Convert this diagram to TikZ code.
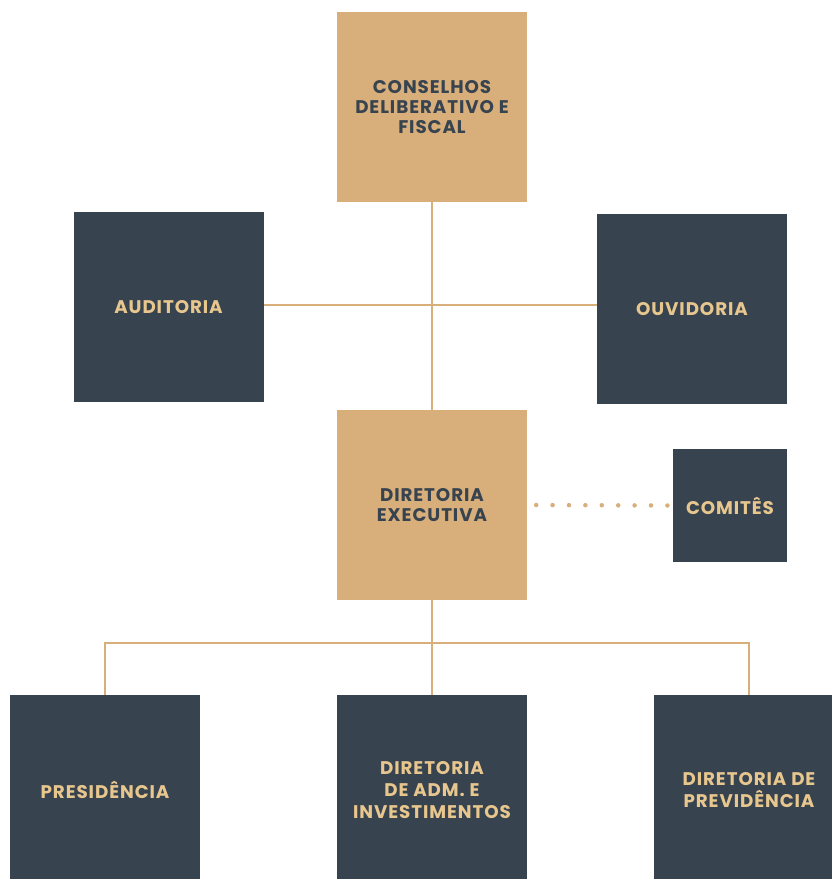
\documentclass[tikz,border=0pt]{standalone}
\usepackage{fontspec}
\setmainfont{Poppins}
\newfontfamily\orgfont{Poppins}[LetterSpace=5]
\usetikzlibrary{positioning, calc}
\definecolor{tan}{HTML}{D8AE7B}
\definecolor{navy}{HTML}{37434F}
\definecolor{cream}{HTML}{E8C78F}

\tikzset{
    orgbox/.style={minimum width=190pt, minimum height=190pt, align=center, inner sep=0pt,
        font=\orgfont\bfseries\fontsize{18.3}{20}\selectfont},
    tanbox/.style={orgbox, fill=tan, text=navy},
    navybox/.style={orgbox, fill=navy, text=cream},
    lowbox/.style={navybox, font=\orgfont\bfseries\fontsize{18.3}{22}\selectfont},
    link/.style={draw=tan, line width=2pt},
}

\begin{document}
\begin{tikzpicture}[x=1pt, y=-1pt]
    \useasboundingbox (0,0) rectangle (832,879);
    \begin{scope}
    \clip (0,0) rectangle (832,879);
    \node[tanbox] (conselhos) at (432,107) {CONSELHOS\\DELIBERATIVO E\\FISCAL};
    \node[navybox] (auditoria) at (168.5,307) {AUDITORIA};
    \node[navybox] (ouvidoria) at (692,309) {OUVIDORIA};
    \node[tanbox] (executiva) at (432,505) {DIRETORIA\\EXECUTIVA};
    \node[navybox, minimum width=114pt, minimum height=113pt] (comites) at (730,505.5) {COMITÊS};
    \node[lowbox] (presidencia) at (105,790) {PRESIDÊNCIA};
    \node[lowbox] (adm) at (432,790) {DIRETORIA\\DE ADM. E\\INVESTIMENTOS};
    \node[lowbox] (previdencia) at (749,790) {DIRETORIA DE\\PREVIDÊNCIA};
    \coordinate (bus) at (432,643);
    \coordinate (cross) at (432,305);
    \end{scope}
    \draw[link] (conselhos.south) -- (executiva.north);
    \draw[link] (auditoria.east |- cross) -- (ouvidoria.west |- cross);
    \draw[tan, line width=4.5pt, line cap=round, dash pattern=on 0pt off 16.4pt]
        ($(executiva.east)+(9,0)$) -- ($(comites.west)+(-4,0)$);
    \draw[link] (executiva.south) -- (bus);
    \draw[link] (presidencia.north) |- (bus) -| (previdencia.north);
    \draw[link] (bus) -- (adm.north);
\end{tikzpicture}
\end{document}
